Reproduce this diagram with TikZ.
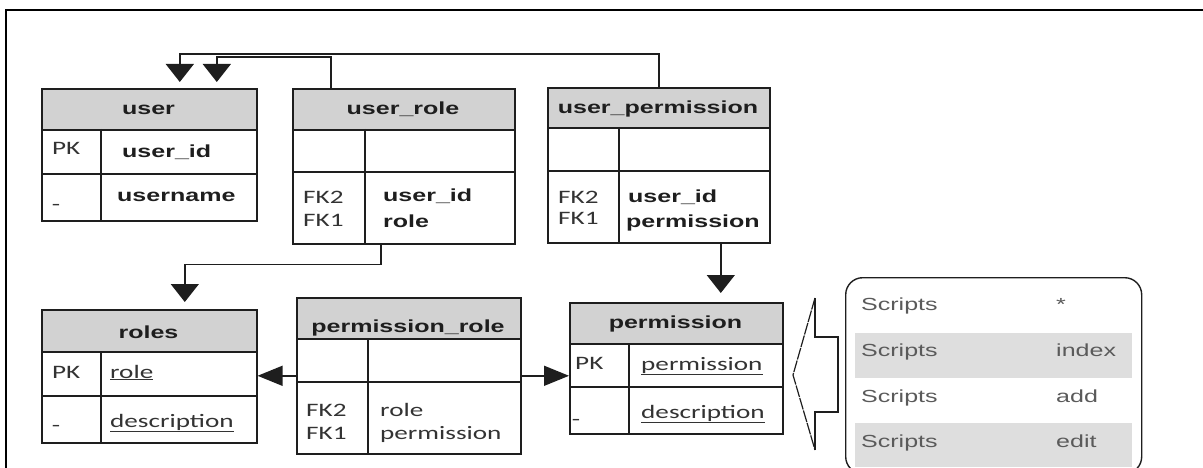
\documentclass[tikz,border=0pt]{standalone}
\usepackage{fontspec}
\usetikzlibrary{arrows.meta}
\newfontfamily\hfont{Liberation Sans}[FakeStretch=1.43]
\newfontfamily\cfont{Carlito}[FakeStretch=1.43]
\definecolor{hdrgray}{HTML}{D2D2D2}
\definecolor{bandgray}{HTML}{DEDEDE}
\definecolor{inkdark}{HTML}{1E1E1E}
\definecolor{keyink}{HTML}{333333}
\definecolor{lightink}{HTML}{5A5A5A}

\begin{document}
\begin{tikzpicture}[x=1pt,y=-1pt,
  tbl/.style={draw=inkdark, line width=1.6pt, anchor=north west, inner sep=0pt},
  hdr/.style={fill=hdrgray, draw=inkdark, line width=1.6pt, anchor=north west, inner sep=0pt},
  grid/.style={draw=inkdark, line width=1.6pt},
  htext/.style={anchor=base, inner sep=0pt, text=inkdark, font=\hfont\bfseries\fontsize{17.5}{20}\selectfont},
  ftext/.style={anchor=base west, inner sep=0pt, text=inkdark, font=\hfont\bfseries\fontsize{17.5}{20}\selectfont},
  ctext/.style={anchor=base west, inner sep=0pt, text=keyink, font=\cfont\fontsize{19}{22}\selectfont},
  dashtext/.style={anchor=center, inner sep=0pt, text=keyink, font=\cfont\fontsize{19}{22}\selectfont},
  stext/.style={anchor=base west, inner sep=0pt, text=lightink, font=\hfont\fontsize{17.5}{20}\selectfont},
  conn/.style={draw=inkdark, line width=1.5pt},
  varr/.style={-{Triangle[width=28pt,length=18pt]}},
  harr/.style={-{Triangle[width=20pt,length=25pt]}},
]
\path[use as bounding box] (0,0) rectangle (1203,468);
\clip (0,0) rectangle (1203,468);

% outer frame (top and left edges)
\draw[line width=2.6pt, black] (6,475) -- (6,10) -- (1210,10);

% ---------- user ----------
\node[hdr, minimum width=215pt, minimum height=41pt] (user-h) at (41,88) {};
\node[tbl, minimum width=215pt, minimum height=132pt] (user) at (41,88) {};
\draw[grid] (41,174) -- (256,174);
\draw[grid] (101,129) -- (101,220);
\node[htext] (user-t) at (148.5,115) {user};
\node[ctext] (user-pk) at (52,155) {PK};
\node[ftext] (user-f1) at (122,158) {user\_id};
\node[dashtext] (user-d) at (56,207) {-};
\node[ftext] (user-f2) at (117,202) {username};

% ---------- user_role ----------
\node[hdr, minimum width=222pt, minimum height=41pt] (urole-h) at (292,88) {};
\node[tbl, minimum width=222pt, minimum height=155pt] (urole) at (292,88) {};
\draw[grid] (292,172) -- (514,172);
\draw[grid] (365,129) -- (365,243);
\node[htext] (urole-t) at (403,115) {user\_role};
\node[ctext] (urole-k2) at (303,204) {FK2};
\node[ctext] (urole-k1) at (303,226) {FK1};
\node[ftext] (urole-f1) at (383,202) {user\_id};
\node[ftext] (urole-f2) at (383,227) {role};

% ---------- user_permission ----------
\node[hdr, minimum width=222pt, minimum height=40pt] (uperm-h) at (547,87) {};
\node[tbl, minimum width=222pt, minimum height=155pt] (uperm) at (547,87) {};
\draw[grid] (547,171) -- (769,171);
\draw[grid] (619,127) -- (619,242);
\node[htext] (uperm-t) at (658,114) {user\_permission};
\node[ctext] (uperm-k2) at (558,204) {FK2};
\node[ctext] (uperm-k1) at (558,225) {FK1};
\node[ftext] (uperm-f1) at (628,203) {user\_id};
\node[ftext] (uperm-f2) at (626,227) {permission};

% ---------- roles ----------
\node[hdr, minimum width=215pt, minimum height=42pt] (roles-h) at (41,309) {};
\node[tbl, minimum width=215pt, minimum height=133pt] (roles) at (41,309) {};
\draw[grid] (41,396) -- (256,396);
\draw[grid] (101,351) -- (101,442);
\node[htext] (roles-t) at (148.5,338) {roles};
\node[ctext] (roles-pk) at (52,378) {PK};
\node[ctext] (roles-f1) at (110,378) {\underline{role}};
\node[dashtext] (roles-d) at (56,428) {-};
\node[ctext] (roles-f2) at (110,427) {\underline{description}};

% ---------- permission_role ----------
\node[hdr, minimum width=224pt, minimum height=41pt] (prole-h) at (296,297) {};
\node[tbl, minimum width=224pt, minimum height=156pt] (prole) at (296,297) {};
\draw[grid] (296,382) -- (520,382);
\draw[grid] (368,338) -- (368,453);
\node[htext] (prole-t) at (408,332) {permission\_role};
\node[ctext] (prole-k2) at (306,416) {FK2};
\node[ctext] (prole-k1) at (306,439) {FK1};
\node[ctext] (prole-f1) at (380,416) {role};
\node[ctext] (prole-f2) at (380,439) {permission};

% ---------- permission ----------
\node[hdr, minimum width=213pt, minimum height=41pt] (perm-h) at (569,302) {};
\node[tbl, minimum width=213pt, minimum height=131pt] (perm) at (569,302) {};
\draw[grid] (569,387) -- (782,387);
\draw[grid] (629,343) -- (629,433);
\node[htext] (perm-t) at (675.5,328) {permission};
\node[ctext] (perm-pk) at (575,369) {PK};
\node[ctext] (perm-f1) at (641,370) {\underline{permission}};
\node[dashtext] (perm-d) at (576,422) {-};
\node[ctext] (perm-f2) at (641,418) {\underline{description}};

% ---------- connectors ----------
\coordinate (userTipA) at ([xshift=30.5pt,yshift=6pt]user.north);
\coordinate (userTipB) at ([xshift=67.5pt,yshift=6pt]user.north);
\coordinate (rolesTip) at ([xshift=35.5pt,yshift=7pt]roles.north);
\coordinate (uroleTop) at ([xshift=-73pt]urole.north);
\coordinate (uroleBot) at ([xshift=-23pt]urole.south);
\coordinate (upermBot) at ([xshift=62pt]uperm.south);
\coordinate (permTip) at ([yshift=9pt]perm.north);

\draw[conn, varr] (uperm.north) -- ++(0,-33) -| (userTipA);
\draw[conn, varr] (uroleTop) -- ++(0,-31) -| (userTipB);
\draw[conn, varr] (uroleBot) -- ++(0,20) -| (rolesTip);
\draw[conn, harr] (prole.west) -- (prole.west -| roles.east);
\draw[conn, harr] (prole.east) -- (prole.east -| perm.west);
\draw[conn, varr] (upermBot) -- (upermBot |- permTip);

% ---------- block arrow pointing at permission ----------
\draw[inkdark, line width=1.1pt, line join=miter]
  (815,298) -- (815,337) -- (838,337) -- (838,412) -- (815,412) -- (815,450);
\draw[inkdark, line width=1.2pt, dash pattern=on 12pt off 1pt]
  (815,298) -- (793,375) -- (815,450);

% ---------- scripts list ----------
\fill[bandgray] (855,333) rectangle (1132,378);
\fill[bandgray] (855,423) rectangle (1132,467);
\node[draw=inkdark, line width=1.4pt, rounded corners=17pt, anchor=north west,
      inner sep=0pt, minimum width=296pt, minimum height=196pt] (scripts) at (845,277) {};
\node[stext] (s1a) at (861,310) {Scripts};
\node[stext] (s1b) at (1056,310) {*};
\node[stext] (s2a) at (861,356) {Scripts};
\node[stext] (s2b) at (1056,356) {index};
\node[stext] (s3a) at (861,402) {Scripts};
\node[stext] (s3b) at (1056,402) {add};
\node[stext] (s4a) at (861,447) {Scripts};
\node[stext] (s4b) at (1056,447) {edit};
\end{tikzpicture}
\end{document}
